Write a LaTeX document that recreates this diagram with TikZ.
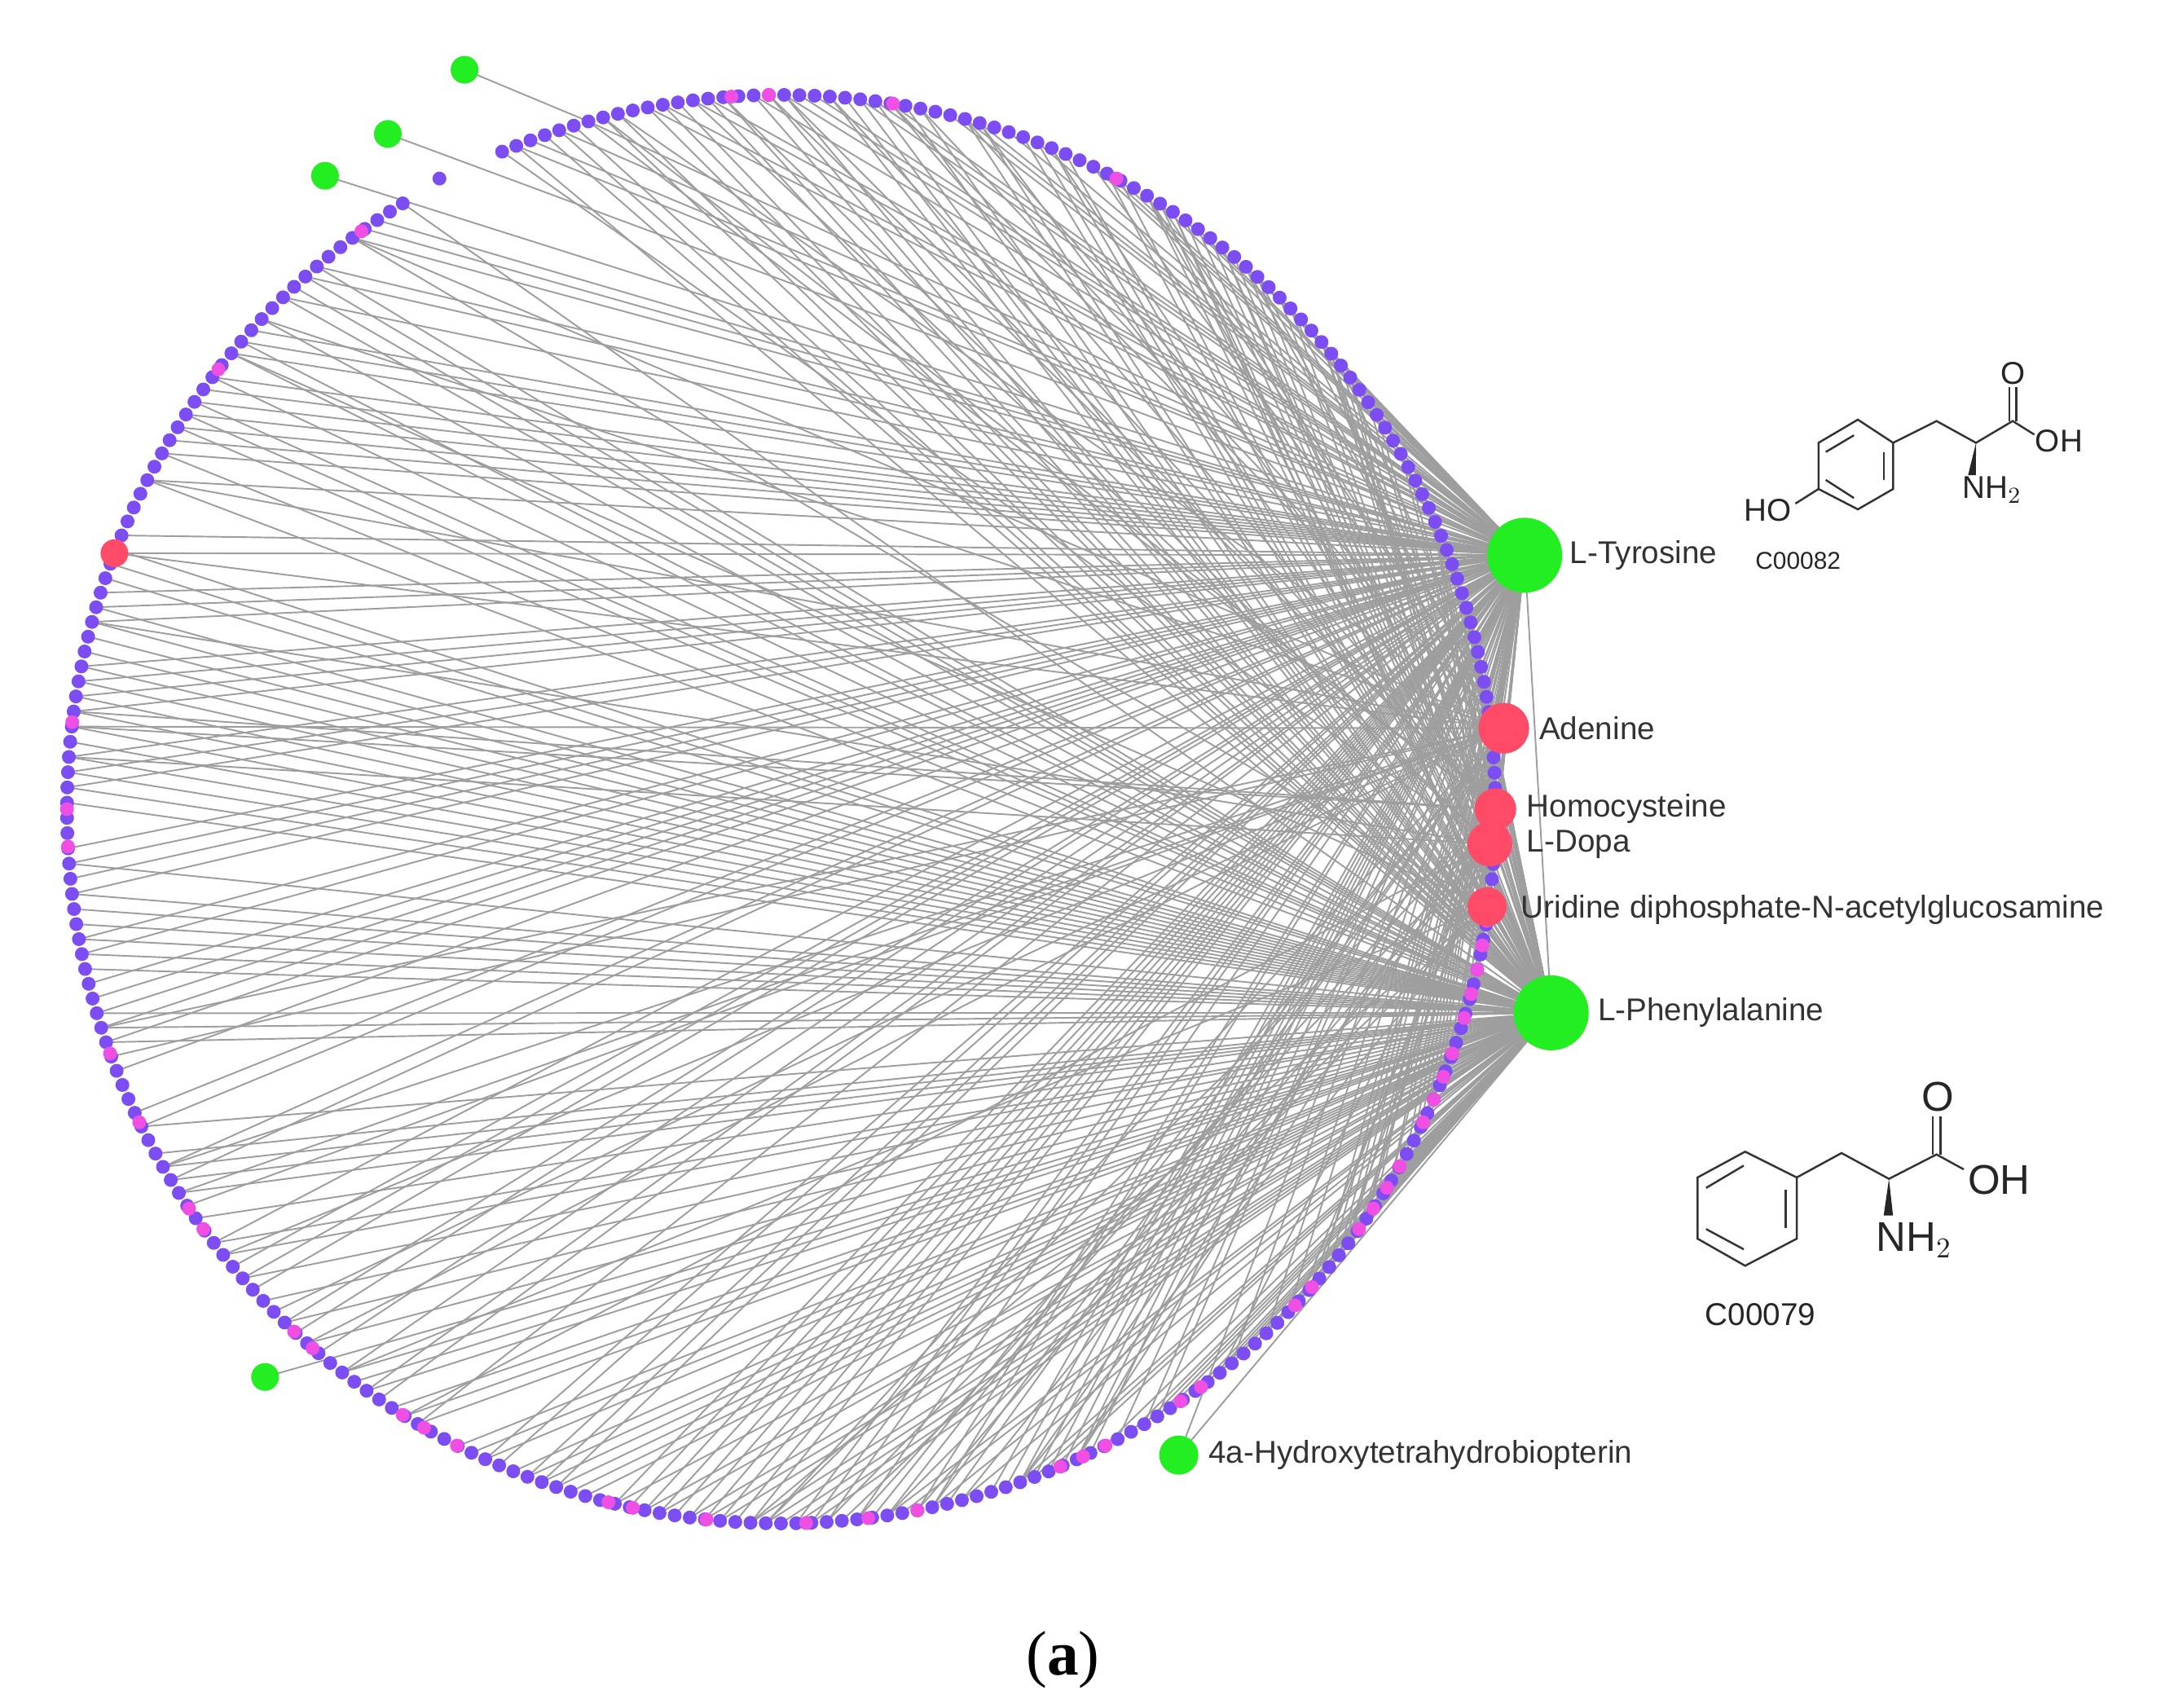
\documentclass[tikz,border=0pt]{standalone}
\usepackage{fontspec}
\setmainfont{Liberation Sans}
\newfontfamily\serifa{Liberation Serif}
\begin{document}
\begin{tikzpicture}[x=0.01712cm,y=-0.01712cm,
  edge/.style={draw=black!38,line width=0.55pt},
  pur/.style={circle,fill=purpc,inner sep=0,minimum size=0.17cm},
  pnk/.style={circle,fill=pinkc,inner sep=0,minimum size=0.17cm},
  grn/.style={circle,fill=greenc,inner sep=0},
  red/.style={circle,fill=redc,inner sep=0},
  lab/.style={anchor=west,font=\fontsize{11}{13}\selectfont,text=black!80,inner sep=1pt},
  bond/.style={line width=0.7pt,black!80},
  chem/.style={text=black!85,inner sep=0}]
\definecolor{purpc}{HTML}{7C4DF2}
\definecolor{pinkc}{HTML}{F04FE4}
\definecolor{greenc}{HTML}{22EE22}
\definecolor{redc}{HTML}{FF4A68}
\useasboundingbox (0,0) rectangle (1552,1224);
\pgfmathsetseed{11}
% hub coordinates
\coordinate (tyr) at (1093,398);
\coordinate (phe) at (1112,726);
\coordinate (ade) at (1078,522);
\coordinate (hcy) at (1072,580);
\coordinate (dop) at (1068,605);
\coordinate (udp) at (1066,650);
\coordinate (g1) at (333,50);
\coordinate (g2) at (278,96);
\coordinate (g3) at (233,126);
\coordinate (g4) at (190,987);
\coordinate (hbp) at (845,1043);
\coordinate (lone) at (315,128);
% circle coordinates
\foreach \i in {0,...,287}{
  \pgfmathsetmacro\a{113-\i*1.2230}
  \coordinate (c\i) at ({560+512*cos(\a)},{580-512*sin(\a)});
}
\coordinate (r1) at ({560+512*cos(159)},{580-512*sin(159)});
% edges
\foreach \i in {0,...,287}{
  \pgfmathsetmacro\r{rnd}
  \ifdim\r pt<0.55pt \draw[edge] (c\i) -- (tyr);\fi
  \pgfmathsetmacro\r{rnd}
  \ifdim\r pt<0.55pt \draw[edge] (c\i) -- (phe);\fi
  \pgfmathsetmacro\r{rnd}
  \ifdim\r pt<0.12pt \draw[edge] (c\i) -- (ade);\fi
  \pgfmathsetmacro\r{rnd}
  \ifdim\r pt<0.07pt \draw[edge] (c\i) -- (hcy);\fi
  \pgfmathsetmacro\r{rnd}
  \ifdim\r pt<0.07pt \draw[edge] (c\i) -- (dop);\fi
  \pgfmathsetmacro\r{rnd}
  \ifdim\r pt<0.07pt \draw[edge] (c\i) -- (udp);\fi
}
\draw[edge] (r1) -- (ade);
\draw[edge] (r1) -- (tyr);
\draw[edge] (tyr) -- (phe);
\draw[edge] (g1) -- (c6);
\draw[edge] (g2) -- (tyr);
\draw[edge] (g3) -- (tyr);
\draw[edge] (g4) -- (phe);
\draw[edge] (hbp) -- (phe);
\draw[edge] (hbp) -- (tyr);
% circle nodes
\foreach \i in {0,...,287}{ \node[pur] (n\i) at (c\i) {}; }
\node[pur] (nl) at (lone) {};
\foreach \a [count=\k] in {94,91,81,62,126,142,173,180,183,200,206,214,216,227,229,238,240,243,256,258,264,272,277,281,293,295,297,304,306,316,318,324,326,328,330,334,336,338,340,343,345,347,349,351}{
  \node[pnk] (p\k) at ({560+512*cos(\a)},{580-512*sin(\a)}) {};
}
\node[red,minimum size=0.34cm] (rn) at (r1) {};
% hubs
\node[grn,minimum size=0.92cm] (tyrn) at (tyr) {};
\node[grn,minimum size=0.92cm] (phen) at (phe) {};
\node[red,minimum size=0.62cm] (aden) at (ade) {};
\node[red,minimum size=0.51cm] (hcyn) at (hcy) {};
\node[red,minimum size=0.55cm] (dopn) at (dop) {};
\node[red,minimum size=0.48cm] (udpn) at (udp) {};
\node[grn,minimum size=0.34cm] (g1n) at (g1) {};
\node[grn,minimum size=0.34cm] (g2n) at (g2) {};
\node[grn,minimum size=0.34cm] (g3n) at (g3) {};
\node[grn,minimum size=0.34cm] (g4n) at (g4) {};
\node[grn,minimum size=0.48cm] (hbpn) at (hbp) {};
% labels
\node[lab] (lt) at (1123,398) {L-Tyrosine};
\node[lab] (la) at (1101,522) {Adenine};
\node[lab] (lh) at (1092,580) {Homocysteine};
\node[lab] (ld) at (1092,605) {L-Dopa};
\node[lab] (lu) at (1088,652) {Uridine diphosphate-N-acetylglucosamine};
\node[lab] (lp) at (1143,726) {L-Phenylalanine};
\node[lab] (l4) at (864,1043) {4a-Hydroxytetrahydrobiopterin};
% Tyrosine structure
\draw[bond] (1331.8,300.8)--(1303.6,317.4)--(1303.6,350.5)--(1331.8,365.1)--(1357.1,350.5)--(1357.1,317.4)--cycle;
\draw[bond] (1308.8,324)--(1329,312);
\draw[bond] (1308.8,344)--(1329,357);
\draw[bond] (1350.5,324)--(1350.5,344);
\draw[bond] (1303.6,350.5)--(1287,361);
\draw[bond] (1357.1,317.4)--(1388.2,301.8)--(1416.5,317.4)--(1442.8,301.8)--(1458.3,311.5);
\draw[bond] (1440.3,301.8)--(1440.3,277.5);
\draw[bond] (1445.3,301.8)--(1445.3,277.5);
\fill[black!85] (1416.5,317.4)--(1410.8,340.6)--(1416.4,340.6)--cycle;
\node[chem,font=\fontsize{11}{12}\selectfont] (tho) at (1267,366) {HO};
\node[chem,font=\fontsize{11}{12}\selectfont] (to) at (1442.8,267.7) {O};
\node[chem,font=\fontsize{11}{12}\selectfont] (toh) at (1476,316.4) {OH};
\node[chem,font=\fontsize{11}{12}\selectfont] (tnh) at (1428,351) {NH$_2$};
\node[chem,font=\fontsize{8.5}{10}\selectfont,anchor=west] (tc) at (1258,402) {C00082};
% Phenylalanine structure
\draw[bond] (1251,825.5)--(1216.9,844)--(1216.9,887.9)--(1251,907.3)--(1288,887.9)--(1288,844)--cycle;
\draw[bond] (1223,851.5)--(1250,835.5);
\draw[bond] (1223,881)--(1250,895.5);
\draw[bond] (1280,853)--(1280,880);
\draw[bond] (1288,844)--(1320.1,826.5)--(1354.1,845)--(1388.2,827.5)--(1407.7,838.2);
\draw[bond] (1385.4,827.5)--(1385.4,800.2);
\draw[bond] (1391,827.5)--(1391,800.2);
\fill[black!85] (1354.1,845)--(1350.3,871.3)--(1357,871.3)--cycle;
\node[chem,font=\fontsize{14.5}{16}\selectfont] (po) at (1389,786) {O};
\node[chem,font=\fontsize{14.5}{16}\selectfont] (poh) at (1433,846) {OH};
\node[chem,font=\fontsize{14.5}{16}\selectfont] (pnh) at (1372,889) {NH$_2$};
\node[chem,font=\fontsize{11}{12}\selectfont,anchor=west] (pc) at (1222,942) {C00079};
% caption
\node[inner sep=0,font=\serifa\fontsize{22}{24}\selectfont] (cap) at (762,1190) {(\textbf{a})};
\end{tikzpicture}
\end{document}
